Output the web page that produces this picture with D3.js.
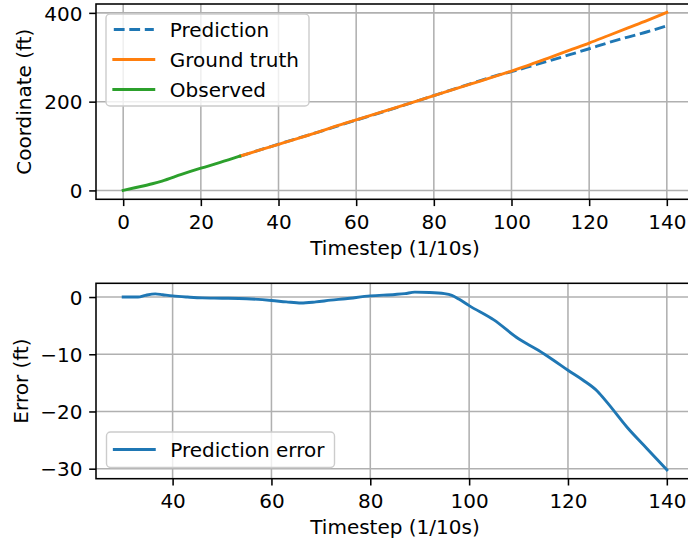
<!DOCTYPE html>
<html><head><meta charset="utf-8">
<script src="https://cdn.jsdelivr.net/npm/d3@7"></script>
<style>
html,body{margin:0;padding:0;background:#fff;}
svg{display:block;font-family:"DejaVu Sans",sans-serif;}
</style></head>
<body>
<svg id="chart" width="688" height="544"></svg>
<script>
// ---- data ----
const observedT = [0, 3, 7.5, 10, 15, 20, 25, 30];
const observedV = [0, 6, 15, 21, 36, 50, 63, 77];

const truthT = [30, 40, 50, 57, 60, 70, 80, 90, 100, 105, 110, 115, 120, 125, 130, 135, 140];
const truthV = [77, 104, 131, 151, 159, 186, 213.5, 241, 269, 284, 300, 316, 332, 349, 366, 383, 401];

const predT = [30, 40, 50, 60, 70, 80, 90, 96, 100, 105, 110, 115, 120, 125, 130, 135, 140];
const predV = [77, 104.2, 130.8, 158.4, 185.5, 213.7, 241.8, 258.6, 267.5, 280, 292.7, 305.8, 319.2, 333, 345.5, 357.5, 370.8];

const errT = [30, 33, 34.5, 36.5, 38, 40, 43, 46, 50, 55, 60, 63, 66, 69, 72, 75, 80, 85, 87, 89, 92, 95, 96.5, 98, 100, 105, 110, 114, 117, 120, 123, 126, 128, 132, 136, 140];
const errV = [0, 0, 0.3, 0.55, 0.4, 0.2, 0, -0.15, -0.2, -0.3, -0.6, -0.85, -1.05, -0.85, -0.55, -0.3, 0.2, 0.45, 0.6, 0.85, 0.8, 0.6, 0.3, -0.4, -1.5, -4.0, -7.3, -9.3, -11.0, -12.8, -14.5, -16.5, -18.5, -22.8, -26.5, -30.2];

const topXTicks = [0, 20, 40, 60, 80, 100, 120, 140];
const topYTicks = [0, 200, 400];
const botXTicks = [40, 60, 80, 100, 120, 140];
const botYTicks = [0, -10, -20, -30];

const legendTop = ["Prediction", "Ground truth", "Observed"];
const legendBot = ["Prediction error"];

// ---- style ----
const FS = 20;
const C = {blue: "#1f77b4", orange: "#ff7f0e", green: "#2ca02c", grid: "#b0b0b0"};
const LW = 2.9, GW = 1.55, SW = 1.55, TL = 6.8;

const svg = d3.select("#chart");
const zip = (a, b) => a.map((t, i) => [t, b[i]]);
const fmt = v => (v < 0 ? "\u2212" + Math.abs(v) : String(v));

function panel(cfg) {
  const g = svg.append("g");
  const x = d3.scaleLinear().domain(cfg.xd).range([cfg.left, cfg.right]);
  const y = d3.scaleLinear().domain(cfg.yd).range([cfg.bottom, cfg.top]);
  // grid
  g.append("g").selectAll("line").data(cfg.xt).join("line")
    .attr("x1", d => x(d)).attr("x2", d => x(d)).attr("y1", cfg.top).attr("y2", cfg.bottom)
    .attr("stroke", C.grid).attr("stroke-width", GW);
  g.append("g").selectAll("line").data(cfg.yt).join("line")
    .attr("y1", d => y(d)).attr("y2", d => y(d)).attr("x1", cfg.left).attr("x2", cfg.right)
    .attr("stroke", C.grid).attr("stroke-width", GW);
  // axes via d3
  const xa = g.append("g").attr("transform", `translate(0,${cfg.bottom})`)
    .call(d3.axisBottom(x).tickValues(cfg.xt).tickFormat(fmt).tickSize(TL).tickPadding(6.8));
  const ya = g.append("g").attr("transform", `translate(${cfg.left},0)`)
    .call(d3.axisLeft(y).tickValues(cfg.yt).tickFormat(fmt).tickSize(TL).tickPadding(6.8));
  [xa, ya].forEach(a => {
    a.select(".domain").remove();
    a.selectAll(".tick line").attr("stroke", "#000").attr("stroke-width", SW);
    a.selectAll(".tick text").attr("font-size", FS).attr("font-family", "DejaVu Sans").attr("fill", "#000");
  });
  xa.selectAll(".tick text").attr("dy", null).attr("y", TL + 6.8).attr("dominant-baseline", "hanging")
    .attr("dy", "0.02em");
  ya.selectAll(".tick text").attr("dy", "0.36em");
  // lines
  const line = d3.line().x(d => x(d[0])).y(d => y(d[1])).curve(d3.curveMonotoneX);
  cfg.series.forEach(s => {
    g.append("path").datum(s.data).attr("d", line).attr("fill", "none")
      .attr("stroke", s.color).attr("stroke-width", LW)
      .attr("stroke-dasharray", s.dash || null)
      .attr("stroke-linecap", s.dash ? "butt" : "square")
      .attr("stroke-linejoin", "round");
  });
  // spines
  g.append("rect").attr("x", cfg.left).attr("y", cfg.top)
    .attr("width", cfg.right - cfg.left).attr("height", cfg.bottom - cfg.top)
    .attr("fill", "none").attr("stroke", "#000").attr("stroke-width", SW);
  // labels
  g.append("text").attr("x", (cfg.left + cfg.right) / 2).attr("y", cfg.xlabY)
    .attr("text-anchor", "middle").attr("font-size", FS).text(cfg.xlab);
  g.append("text").attr("transform", `translate(${cfg.ylabX},${(cfg.top + cfg.bottom) / 2}) rotate(-90)`)
    .attr("text-anchor", "middle").attr("font-size", FS).text(cfg.ylab);
  // legend
  const L = cfg.legend;
  const lg = g.append("g");
  lg.append("rect").attr("x", L.x).attr("y", L.y).attr("width", L.w).attr("height", L.h)
    .attr("rx", 4).attr("fill", "#fff").attr("fill-opacity", 0.8)
    .attr("stroke", "#cccccc").attr("stroke-width", 1.4);
  L.items.forEach((it, i) => {
    const cy = L.y0 + i * L.dy;
    lg.append("line").attr("x1", L.x + 7.8).attr("x2", L.x + 7.8 + 2 * FS)
      .attr("y1", cy).attr("y2", cy).attr("stroke", it.color).attr("stroke-width", LW)
      .attr("stroke-dasharray", it.dash || null)
      .attr("stroke-linecap", it.dash ? "butt" : "square");
    lg.append("text").attr("x", L.x + 7.8 + 2.8 * FS).attr("y", cy).attr("dy", "0.36em")
      .attr("font-size", FS).text(it.label);
  });
}

const DASH = "10.8,4.7";

panel({
  xd: [-7, 147], yd: [-20, 420], left: 96, right: 694, top: 4, bottom: 199.3,
  xt: topXTicks, yt: topYTicks,
  xlab: "Timestep (1/10s)", ylab: "Coordinate (ft)", xlabY: 254.5, ylabX: 31,
  series: [
    {data: zip(predT, predV), color: C.blue, dash: DASH},
    {data: zip(truthT, truthV), color: C.orange},
    {data: zip(observedT, observedV), color: C.green}
  ],
  legend: {x: 106, y: 14, w: 203, h: 92, y0: 29.5, dy: 30, items: [
    {label: legendTop[0], color: C.blue, dash: DASH},
    {label: legendTop[1], color: C.orange},
    {label: legendTop[2], color: C.green}
  ]}
});

panel({
  xd: [24.5, 145.5], yd: [-31.75, 2.4], left: 96, right: 694, top: 283.3, bottom: 478.7,
  xt: botXTicks, yt: botYTicks,
  xlab: "Timestep (1/10s)", ylab: "Error (ft)", xlabY: 533.5, ylabX: 28,
  series: [{data: zip(errT, errV), color: C.blue}],
  legend: {x: 106.5, y: 432, w: 228, h: 35.5, y0: 449.5, dy: 30, items: [
    {label: legendBot[0], color: C.blue}
  ]}
});
</script>
</body></html>
